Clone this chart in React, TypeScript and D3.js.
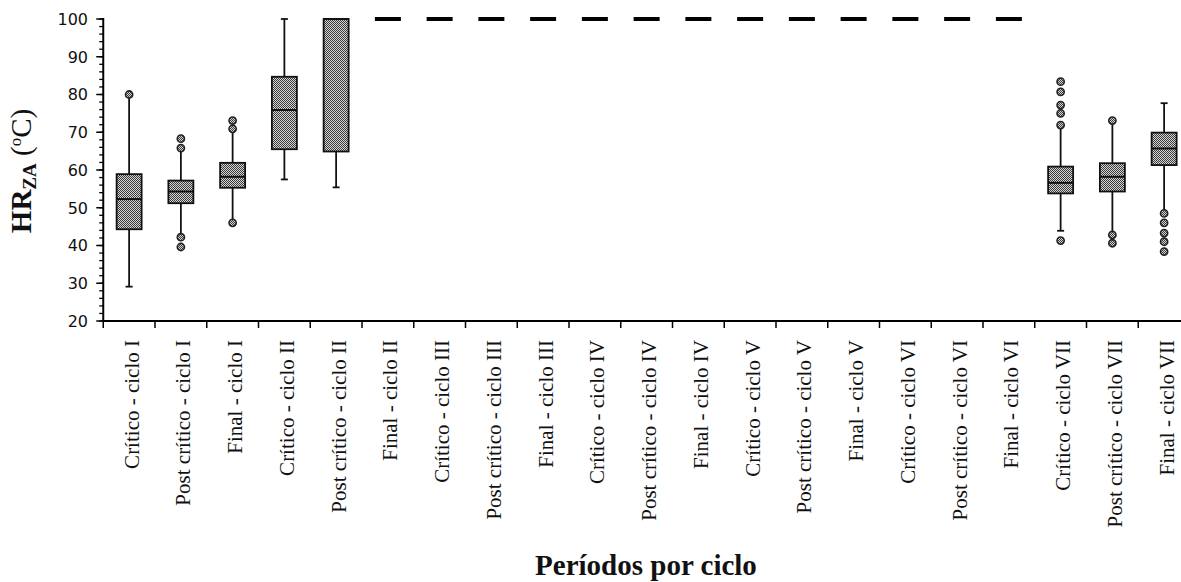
import React, { useEffect } from "react";
import * as d3 from "d3";

const categories = [
  "Crítico - ciclo I", "Post crítico - ciclo I", "Final - ciclo I",
  "Crítico - ciclo II", "Post crítico - ciclo II", "Final - ciclo II",
  "Crítico - ciclo III", "Post crítico - ciclo III", "Final - ciclo III",
  "Crítico - ciclo IV", "Post crítico - ciclo IV", "Final - ciclo IV",
  "Crítico - ciclo V", "Post crítico - ciclo V", "Final - ciclo V",
  "Crítico - ciclo VI", "Post crítico - ciclo VI", "Final - ciclo VI",
  "Crítico - ciclo VII", "Post crítico - ciclo VII", "Final - ciclo VII",
];

const whiskerLow = [29.1, 42.5, 46.3, 57.5, 55.4, 100, 100, 100, 100, 100, 100, 100, 100, 100, 100, 100, 100, 100, 43.9, 42.8, 48.5];
const q1 = [44.3, 51.2, 55.3, 65.5, 64.9, 100, 100, 100, 100, 100, 100, 100, 100, 100, 100, 100, 100, 100, 53.8, 54.3, 61.3];
const medians = [52.3, 54.3, 58.2, 75.9, 100, 100, 100, 100, 100, 100, 100, 100, 100, 100, 100, 100, 100, 100, 56.6, 58.2, 65.7];
const q3 = [58.9, 57.2, 61.9, 84.7, 100, 100, 100, 100, 100, 100, 100, 100, 100, 100, 100, 100, 100, 100, 60.9, 61.8, 69.9];
const whiskerHigh = [79.5, 65.5, 70.6, 100, 100, 100, 100, 100, 100, 100, 100, 100, 100, 100, 100, 100, 100, 100, 71.7, 73.0, 77.7];
const outliers: number[][] = [
  [80],
  [68.3, 65.8, 42.2, 39.6],
  [73.1, 70.9, 46.0],
  [], [], [], [], [], [], [], [], [], [], [], [], [], [], [],
  [83.4, 80.7, 77.2, 75.0, 71.9, 41.3],
  [73.1, 42.8, 40.6],
  [48.5, 46.0, 43.3, 41.0, 38.4],
];

const yMajorTicks = [20, 30, 40, 50, 60, 70, 80, 90, 100];

const W = 1181;
const H = 582;
const left = 103.25;
const step = 51.75;
const top = 19;
const bottom = 321;

export default function App() {
  useEffect(() => {
    document.body.style.margin = "0";
    document.body.style.overflow = "hidden";
  }, []);

  const x = d3.scaleBand<string>().domain(categories).range([left, left + step * categories.length]).padding(0);
  const y = d3.scaleLinear().domain([20, 100]).range([bottom, top]);
  const minorTicks = d3.range(20, 100.001, 2);
  const bw = 25;
  const capW = 7;

  return (
    <svg width={W} height={H} style={{ position: "absolute", left: 0, top: 0, background: "#fff" }}>
      <defs>
        <pattern id="dots" patternUnits="userSpaceOnUse" width={2} height={2}>
          <rect x={0} y={0} width={2} height={2} fill="#d6d6d6" />
          <rect x={0} y={0} width={1} height={1} fill="#3a3a3a" />
          <rect x={1} y={1} width={1} height={1} fill="#3a3a3a" />
        </pattern>
      </defs>

      {/* y-axis ticks */}
      {minorTicks.map((t) => (
        <line key={"mi" + t} x1={x.range()[0] - 4} x2={x.range()[0]} y1={y(t)} y2={y(t)} stroke="#000" strokeWidth={1.3} />
      ))}
      {yMajorTicks.map((t) => (
        <g key={"ma" + t}>
          <line x1={x.range()[0] - 7} x2={x.range()[0]} y1={y(t)} y2={y(t)} stroke="#000" strokeWidth={1.5} />
          <text x={88} y={y(t)} dy="0.36em" textAnchor="end" fontFamily="DejaVu Sans" fontSize={16} fill="#111">
            {t}
          </text>
        </g>
      ))}

      {/* x-axis ticks */}
      {d3.range(0, categories.length + 1).map((i) => (
        <line key={"xt" + i} x1={left + i * step} x2={left + i * step} y1={bottom} y2={bottom + 7} stroke="#000" strokeWidth={1.5} />
      ))}

      {/* axes */}
      <line x1={left} x2={left} y1={top - 1} y2={bottom} stroke="#000" strokeWidth={2} />
      <line x1={left} x2={left + step * categories.length} y1={bottom} y2={bottom} stroke="#000" strokeWidth={2} />

      {/* boxes */}
      {categories.map((c, i) => {
        const cx = (x(c) as number) + x.bandwidth() / 2;
        const flat = q1[i] === q3[i] && whiskerLow[i] === whiskerHigh[i];
        if (flat) {
          return (
            <line key={"b" + i} x1={cx - bw / 2 - 0.5} x2={cx + bw / 2 + 0.5} y1={y(medians[i])} y2={y(medians[i])} stroke="#000" strokeWidth={4} />
          );
        }
        return (
          <g key={"b" + i}>
            <line x1={cx} x2={cx} y1={y(whiskerHigh[i])} y2={y(q3[i])} stroke="#111" strokeWidth={1.8} />
            <line x1={cx} x2={cx} y1={y(q1[i])} y2={y(whiskerLow[i])} stroke="#111" strokeWidth={1.8} />
            <line x1={cx - capW / 2} x2={cx + capW / 2} y1={y(whiskerHigh[i])} y2={y(whiskerHigh[i])} stroke="#111" strokeWidth={1.8} />
            <line x1={cx - capW / 2} x2={cx + capW / 2} y1={y(whiskerLow[i])} y2={y(whiskerLow[i])} stroke="#111" strokeWidth={1.8} />
            <rect x={cx - bw / 2} y={y(q3[i])} width={bw} height={y(q1[i]) - y(q3[i])} fill="url(#dots)" stroke="#111" strokeWidth={1.8} />
            <line x1={cx - bw / 2} x2={cx + bw / 2} y1={y(medians[i])} y2={y(medians[i])} stroke="#111" strokeWidth={2} />
            {outliers[i].map((o, k) => (
              <circle key={k} cx={cx} cy={y(o)} r={3.6} fill="url(#dots)" stroke="#222" strokeWidth={1.6} />
            ))}
          </g>
        );
      })}

      {/* x tick labels */}
      {categories.map((c) => {
        const cx = (x(c) as number) + x.bandwidth() / 2;
        return (
          <text key={"xl" + c} transform={`translate(${cx + 9.5},340) rotate(-90)`} textAnchor="end" fontFamily="Liberation Serif" fontSize={21} fill="#111">
            {c}
          </text>
        );
      })}

      {/* axis titles */}
      <text transform="translate(31,171) rotate(-90)" textAnchor="middle" fontFamily="Liberation Serif" fontSize={29} fill="#111">
        <tspan fontWeight="bold">HR</tspan>
        <tspan fontWeight="bold" fontSize={19} dy={5}>ZA</tspan>
        <tspan dy={-5}> (</tspan>
        <tspan fontSize={17} dy={-10}>o</tspan>
        <tspan dy={10}>C)</tspan>
      </text>
      <text x={646} y={575} textAnchor="middle" fontFamily="Liberation Serif" fontWeight="bold" fontSize={29} fill="#111">
        Períodos por ciclo
      </text>
    </svg>
  );
}
